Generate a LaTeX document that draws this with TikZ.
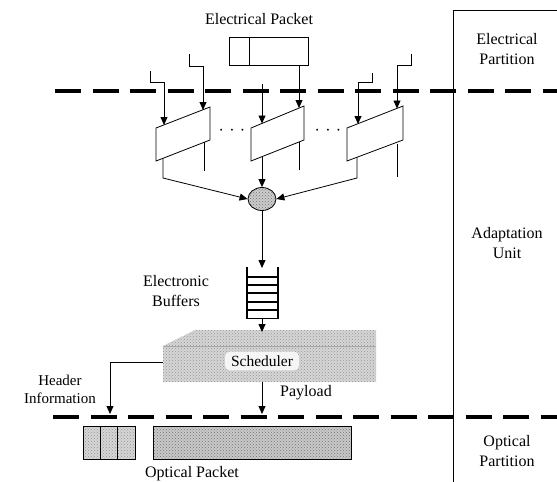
\documentclass[tikz,border=0pt]{standalone}
\usepackage{fontspec}
\setmainfont{Liberation Serif}
\usetikzlibrary{arrows.meta,patterns,shapes.geometric}
\begin{document}
\begin{tikzpicture}[x=1pt,y=-1pt,
  every node/.style={font=\fontsize{16}{20}\selectfont, inner sep=0pt},
  wire/.style={line width=0.8pt, black},
  arr/.style={wire, -{Triangle[length=8pt,width=7pt]}},
  partline/.style={line width=3.5pt, dash pattern=on 26pt off 11.5pt},
  box/.style={draw, line width=0.8pt},
  dotfill/.style={preaction={fill=gray!32}, pattern=crosshatch dots, pattern color=gray!85},
  densefill/.style={preaction={fill=gray!42}, pattern=crosshatch dots, pattern color=gray!90!black},
  darkfill/.style={preaction={fill=gray!40}, pattern=crosshatch dots, pattern color=gray!90!black},
  lbl/.style={align=center}
]
\useasboundingbox (0,0) rectangle (557,482);

% right column frame
\coordinate (frtop) at (453,10);
\coordinate (frend) at (557,10);
\coordinate (frbot) at (453,482);
\draw[wire] (frend) -- (frtop) -- (frbot);

% partition lines
\coordinate (d1a) at (55,91);  \coordinate (d1b) at (557,91);
\coordinate (d2a) at (53,417); \coordinate (d2b) at (557,417);
\draw[partline] (d1a) -- (d1b);
\draw[partline] (d2a) -- (d2b);

% side labels
\node[lbl] (lelec) at (507,49) {Electrical\\Partition};
\node[lbl] (ladapt) at (507,243) {Adaptation\\Unit};
\node[lbl] (lopt) at (507,451) {Optical\\Partition};

% electrical packet
\node (eptxt) at (259,19) {Electrical Packet};
\draw[box] (229,37) rectangle (308,65);
\draw[wire] (249,37) -- (249,65);
\coordinate (epout) at (299,65);

% parallelograms
\coordinate (p1a) at (156,128); \coordinate (p1b) at (210,107);
\coordinate (p1c) at (210,140); \coordinate (p1d) at (156,161);
\coordinate (p2a) at (251,128); \coordinate (p2b) at (304,106);
\coordinate (p2c) at (304,140); \coordinate (p2d) at (251,161);
\coordinate (p3a) at (347,128); \coordinate (p3b) at (403,106);
\coordinate (p3c) at (403,140); \coordinate (p3d) at (347,161);
\draw[box, fill=white] (p1a) -- (p1b) -- (p1c) -- (p1d) -- cycle;
\draw[box, fill=white] (p2a) -- (p2b) -- (p2c) -- (p2d) -- cycle;
\draw[box, fill=white] (p3a) -- (p3b) -- (p3c) -- (p3d) -- cycle;

\node (dots1) at (232,132) {·\,\,·\,\,·};
\node (dots2) at (328,132) {·\,\,·\,\,·};

% inputs
\coordinate (i1s) at (150,71); \coordinate (i1k) at (150,82); \coordinate (i1m) at (164,82); \coordinate (i1e) at (164,125);
\coordinate (i2s) at (189,54); \coordinate (i2k) at (189,66); \coordinate (i2m) at (203,66); \coordinate (i2e) at (203,110);
\coordinate (i3s) at (262,84); \coordinate (i3e) at (262,123.5);
\coordinate (i4e) at (299,108);
\coordinate (i5s) at (372,73); \coordinate (i5k) at (372,82); \coordinate (i5m) at (358,82); \coordinate (i5e) at (358,124);
\coordinate (i6s) at (411,54); \coordinate (i6k) at (411,65); \coordinate (i6m) at (397,65); \coordinate (i6e) at (397,108.5);
\draw[arr] (i1s) -- (i1k) -- (i1m) -- (i1e);
\draw[arr] (i2s) -- (i2k) -- (i2m) -- (i2e);
\draw[arr] (i3s) -- (i3e);
\draw[arr] (epout) -- (i4e);
\draw[arr] (i5s) -- (i5k) -- (i5m) -- (i5e);
\draw[arr] (i6s) -- (i6k) -- (i6m) -- (i6e);

% combiner
\node[ellipse, draw, line width=0.8pt, darkfill, minimum width=28pt, minimum height=23pt] (comb) at (262,199) {};

% outputs
\coordinate (o1s) at (163,158); \coordinate (o1k) at (163,178);
\coordinate (o2s) at (262,157);
\coordinate (o3s) at (357,157); \coordinate (o3k) at (357,178);
\draw[arr] (o1s) -- (o1k) -- (comb.west);
\draw[arr] (o2s) -- (comb.north);
\draw[arr] (o3s) -- (o3k) -- (comb.east);
% stubs
\coordinate (s1a) at (204,142); \coordinate (s1b) at (204,171);
\coordinate (s2a) at (299,142); \coordinate (s2b) at (299,170);
\coordinate (s3a) at (397,144); \coordinate (s3b) at (397,177);
\draw[wire] (s1a) -- (s1b);
\draw[wire] (s2a) -- (s2b);
\draw[wire] (s3a) -- (s3b);

% buffer
\coordinate (bufin) at (262,268);
\draw[arr] (comb.south) -- (bufin);
\draw[line width=1.6pt] (247,267) -- (247,318.5) -- (278,318.5) -- (278,267);
\foreach \yy in {277,285,293,302,310}{\draw[line width=1.4pt] (247,\yy) -- (278,\yy);}
\coordinate (bufout) at (262,318);
\node[lbl] (buftxt) at (176,291) {Electronic\\Buffers};

% scheduler
\coordinate (sc1) at (163,346); \coordinate (sc2) at (195,330);
\coordinate (sc3) at (376,330); \coordinate (sc4) at (376,382);
\coordinate (sc5) at (163,382);
\path[dotfill] (sc1) -- (sc2) -- (sc3) -- (sc4) -- (sc5) -- cycle;
\draw[gray!70, line width=0.4pt] (sc1) -- (376,346);
\node[fill=gray!8, rounded corners=5pt, inner xsep=6pt, inner ysep=4pt, font=\fontsize{15.5}{18}\selectfont] (sched) at (262,361) {Scheduler};
\coordinate (schtop) at (262,332);
\draw[arr] (bufout) -- (schtop);

% header and payload
\coordinate (hl0) at (163,362); \coordinate (hl1) at (110,362); \coordinate (hl2) at (110,414);
\draw[arr] (hl0) -- (hl1) -- (hl2);
\coordinate (pl0) at (262,382); \coordinate (pl1) at (262,414);
\draw[arr] (pl0) -- (pl1);
\node[lbl, font=\fontsize{15}{18}\selectfont] (hdtxt) at (60,389) {Header\\Information};
\node (pltxt) at (306,393) {Payload};

% optical packet
\path[dotfill] (83,426) rectangle (135,459);
\draw[box] (83,426) rectangle (135,459);
\draw[wire] (100,426) -- (100,459);
\draw[wire] (117,426) -- (117,459);
\path[densefill] (153,426) rectangle (351,459);
\draw[box] (153,426) rectangle (351,459);
\node (optxt) at (192,474) {Optical Packet};
\end{tikzpicture}
\end{document}
